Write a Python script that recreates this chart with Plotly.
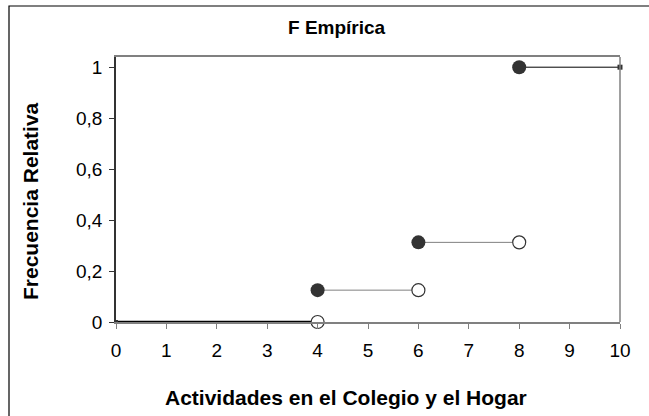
import plotly.graph_objects as go

x_start = [0, 4, 6, 8]
x_end = [4, 6, 8, 10]
freq = [0, 0.125, 0.3125, 1]
x_ticks = list(range(0, 11))
y_ticks = [0, 0.2, 0.4, 0.6, 0.8, 1]

seg_colors = ["#000000", "#808080", "#808080", "#000000"]
seg_widths = [2.5, 1, 1, 1]

fig = go.Figure()
for i in range(len(freq)):
    fig.add_trace(go.Scatter(
        x=[x_start[i], x_end[i]], y=[freq[i], freq[i]], mode="lines",
        line=dict(color=seg_colors[i], width=seg_widths[i]),
        showlegend=False, hoverinfo="skip", cliponaxis=False))

# filled markers at the left end of each step (first one just a small dot)
fig.add_trace(go.Scatter(
    x=x_start[1:], y=freq[1:], mode="markers",
    marker=dict(size=14, color="#333333", line=dict(width=0)),
    showlegend=False, cliponaxis=False))
fig.add_trace(go.Scatter(
    x=[x_start[0]], y=[freq[0]], mode="markers",
    marker=dict(size=4, color="#333333", symbol="square"),
    showlegend=False, cliponaxis=False))
# open markers at the right end of each step (last one a small square)
fig.add_trace(go.Scatter(
    x=x_end[:-1], y=freq[:-1], mode="markers",
    marker=dict(size=13, color="white", line=dict(width=1.2, color="#333333")),
    showlegend=False, cliponaxis=False))
fig.add_trace(go.Scatter(
    x=[x_end[-1]], y=[freq[-1]], mode="markers",
    marker=dict(size=5, color="#333333", symbol="square"),
    showlegend=False, cliponaxis=False))

W, H = 649, 416
L, R, T, B = 116, 29, 57, 94
pw, ph = W - L - R, H - T - B


def px_x(x):
    return (x - L) / pw


def px_y(y):
    return (H - B - y) / ph


fig.update_layout(
    width=W, height=H,
    margin=dict(l=L, r=R, t=T, b=B),
    paper_bgcolor="white", plot_bgcolor="white",
    separators=",.",
    font=dict(family="Liberation Sans, Arial, sans-serif", color="#000000", size=19),
    xaxis=dict(range=[0, 10], tickvals=x_ticks, showgrid=False, zeroline=False,
               showline=True, linecolor="#808080", linewidth=1.5, mirror=True,
               ticks="outside", ticklen=5, tickcolor="#808080",
               ticklabelstandoff=5),
    yaxis=dict(range=[0, 1.04], tickvals=y_ticks, showgrid=False, zeroline=False,
               showline=True, linecolor="#333333", linewidth=1.5, mirror=False,
               ticks="outside", ticklen=5, tickcolor="#333333",
               ticklabelstandoff=3),
    annotations=[
        dict(text="<b>F Empírica</b>", xref="paper", yref="paper",
             x=px_x(337), y=px_y(27), xanchor="center", yanchor="middle",
             showarrow=False, font=dict(size=19)),
        dict(text="<b>Actividades en el Colegio y el Hogar</b>", xref="paper", yref="paper",
             x=px_x(346), y=px_y(397), xanchor="center", yanchor="middle",
             showarrow=False, font=dict(size=21)),
        dict(text="<b>Frecuencia Relativa</b>", xref="paper", yref="paper",
             x=px_x(30), y=px_y(201), xanchor="center", yanchor="middle",
             textangle=-90, showarrow=False, font=dict(size=21)),
    ],
    shapes=[
        dict(type="rect", xref="paper", yref="paper",
             x0=px_x(9), x1=px_x(W + 10), y0=px_y(H + 10), y1=px_y(6),
             line=dict(color="#000000", width=1.2), layer="below"),
        dict(type="line", xref="paper", yref="paper", x0=1, x1=1, y0=0, y1=1,
             line=dict(color="#808080", width=1.5)),
    ],
)

fig.write_html("out.html", config={"displayModeBar": False},
               post_script="document.body.style.margin='0';")
